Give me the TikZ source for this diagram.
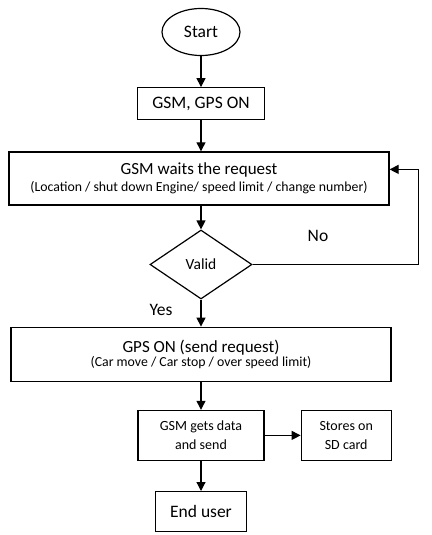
\documentclass[tikz,border=0pt]{standalone}
\usepackage{fontspec}
\setmainfont{Carlito}
\usepackage{tikz}
\usetikzlibrary{positioning,shapes.geometric,arrows.meta}
\tikzset{
    box/.style={rectangle, draw=black, line width=1.2pt, fill=white, align=center, inner sep=0pt},
    flowline/.style={draw=black, line width=1.2pt, -{Triangle[length=9pt,width=9pt]}},
    big/.style={font=\fontsize{17.5}{20}\selectfont},
    small/.style={font=\fontsize{14}{19}\selectfont}
}

\begin{document}
\begin{tikzpicture}[x=1pt, y=1pt]
        \useasboundingbox (0,0) rectangle (431,-535);

        % --- CÁC NÚT ---
        % Bắt đầu
        \node[ellipse, draw=black, line width=1.2pt, minimum width=78pt, minimum height=47pt, inner sep=0pt, big] (start) at (201,-32) {Start};
        \node[box, big, minimum width=127pt, minimum height=32pt, below=31pt of start] (gpson) {GSM, GPS ON};
        \node[box, minimum width=380pt, minimum height=53pt, below=31pt of gpson, xshift=-2pt] (wait)
            {{\fontsize{17}{20}\selectfont GSM waits the request}\\[3pt]{\fontsize{13.8}{16}\selectfont (Location / shut down Engine/ speed limit / change number)}};
        % Điều kiện
        \node[diamond, draw=black, line width=1.2pt, minimum width=102pt, minimum height=69pt, inner sep=0pt, font=\fontsize{15.5}{18}\selectfont] (valid) at (201,-264.5) {Valid};
        \node[box, minimum width=380pt, minimum height=54pt, below=27pt of valid] (send)
            {{\fontsize{17}{20}\selectfont GPS ON (send request)}\\[0pt]{\fontsize{13.8}{16}\selectfont (Car move / Car stop / over speed limit)}};
        % Nhánh cuối
        \node[box, small, minimum width=126pt, minimum height=50pt, below=28pt of send] (gsmdata) {GSM gets data\\and send};
        \node[box, small, minimum width=90pt, minimum height=50pt, right=36pt of gsmdata] (sdcard) {Stores on\\SD card};
        \node[box, big, minimum width=91pt, minimum height=40pt, below=30pt of gsmdata] (enduser) {End user};

        % --- NHÃN ---
        \node[big] (no) at (318,-236) {No};
        \node[big] (yes) at (161,-310) {Yes};

        % --- ĐƯỜNG NỐI ---
        \draw[flowline] (start) -- (gpson);
        \draw[flowline] (gpson) -- (gpson |- wait.north);
        \draw[flowline] (gpson |- wait.south) -- (valid);
        \draw[flowline] (valid) -- (valid |- send.north);
        \draw[flowline] (valid |- send.south) -- (gsmdata);
        \draw[flowline] (gsmdata) -- (sdcard);
        \draw[flowline] (gsmdata) -- (enduser);
        \draw[flowline] (valid.east) -- ++(166,0) |- ([yshift=9pt]wait.east);
\end{tikzpicture}
\end{document}
